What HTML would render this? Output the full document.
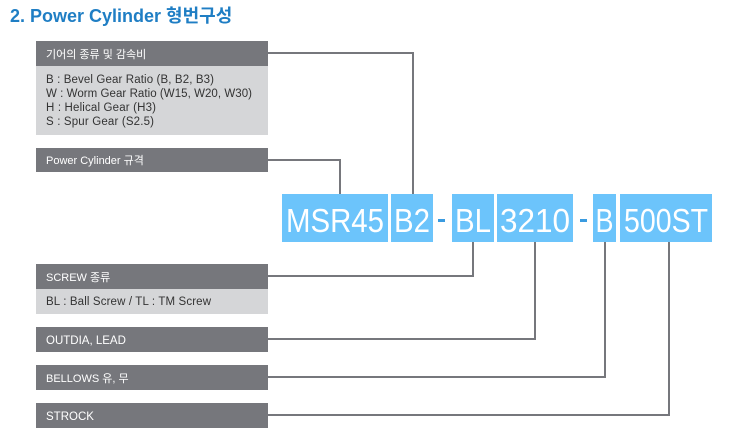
<!DOCTYPE html>
<html><head><meta charset="utf-8"><style>
html,body{margin:0;padding:0;background:#fff;}
svg{display:block;}
text{font-family:"Liberation Sans","Noto Sans CJK KR",sans-serif;}
</style></head><body>
<svg width="736" height="447" viewBox="0 0 736 447" xmlns="http://www.w3.org/2000/svg">
<text x="10" y="22" font-size="18" font-weight="bold" fill="#1f7ec4">2. Power Cylinder 형번구성</text>
<rect x="36" y="41" width="232" height="25" fill="#76777c"/>
<text x="46" y="58" font-size="11" fill="#fff">기어의 종류 및 감속비</text>
<rect x="36" y="66" width="232" height="69" fill="#d5d6d8"/>
<g font-size="11.5" fill="#333">
<text x="46" y="83" textLength="168" lengthAdjust="spacing">B : Bevel Gear Ratio (B, B2, B3)</text>
<text x="46" y="97" textLength="206" lengthAdjust="spacing">W : Worm Gear Ratio (W15, W20, W30)</text>
<text x="46" y="111" textLength="110" lengthAdjust="spacing">H : Helical Gear (H3)</text>
<text x="46" y="125" textLength="108" lengthAdjust="spacing">S : Spur Gear (S2.5)</text>
</g>
<rect x="36" y="148" width="232" height="24" fill="#76777c"/>
<text x="46" y="164" font-size="11" fill="#fff">Power Cylinder 규격</text>
<rect x="36" y="264" width="232" height="25" fill="#76777c"/>
<text x="46" y="281" font-size="11" fill="#fff">SCREW 종류</text>
<rect x="36" y="289" width="232" height="25" fill="#d5d6d8"/>
<text x="46" y="305" font-size="11.5" fill="#333" textLength="165" lengthAdjust="spacing">BL : Ball Screw / TL : TM Screw</text>
<rect x="36" y="327" width="232" height="25" fill="#76777c"/>
<text x="46" y="344" font-size="11.5" fill="#fff">OUTDIA, LEAD</text>
<rect x="36" y="365" width="232" height="25" fill="#76777c"/>
<text x="46" y="382" font-size="11" fill="#fff">BELLOWS 유, 무</text>
<rect x="36" y="403" width="232" height="25" fill="#76777c"/>
<text x="46" y="420" font-size="11.5" fill="#fff">STROCK</text>
<g stroke="#76777c" stroke-width="2" fill="none">
<polyline points="268,53 413,53 413,194"/>
<polyline points="268,160 340,160 340,194"/>
<polyline points="268,276 473,276 473,242"/>
<polyline points="268,339 535,339 535,242"/>
<polyline points="268,377 605,377 605,242"/>
<polyline points="268,415 669,415 669,242"/>
</g>
<g fill="#6cc4fb">
<rect x="282" y="194" width="106" height="48"/>
<rect x="391" y="194" width="42" height="48"/>
<rect x="452" y="194" width="42" height="48"/>
<rect x="497" y="194" width="76" height="48"/>
<rect x="593" y="194" width="23" height="48"/>
<rect x="620" y="194" width="92" height="48"/>
</g>
<g font-size="33" fill="#fff" text-anchor="middle">
<text x="335" y="232" textLength="98" lengthAdjust="spacingAndGlyphs">MSR45</text>
<text x="412" y="232" textLength="36" lengthAdjust="spacingAndGlyphs">B2</text>
<text x="473" y="232" textLength="36" lengthAdjust="spacingAndGlyphs">BL</text>
<text x="535" y="232" textLength="70" lengthAdjust="spacingAndGlyphs">3210</text>
<text x="604.5" y="232" textLength="18" lengthAdjust="spacingAndGlyphs">B</text>
<text x="666" y="232" textLength="84" lengthAdjust="spacingAndGlyphs">500ST</text>
</g>
<rect x="438" y="219" width="7" height="3" fill="#3a9be0"/>
<rect x="580" y="219" width="7" height="3" fill="#3a9be0"/>
</svg>
</body></html>
